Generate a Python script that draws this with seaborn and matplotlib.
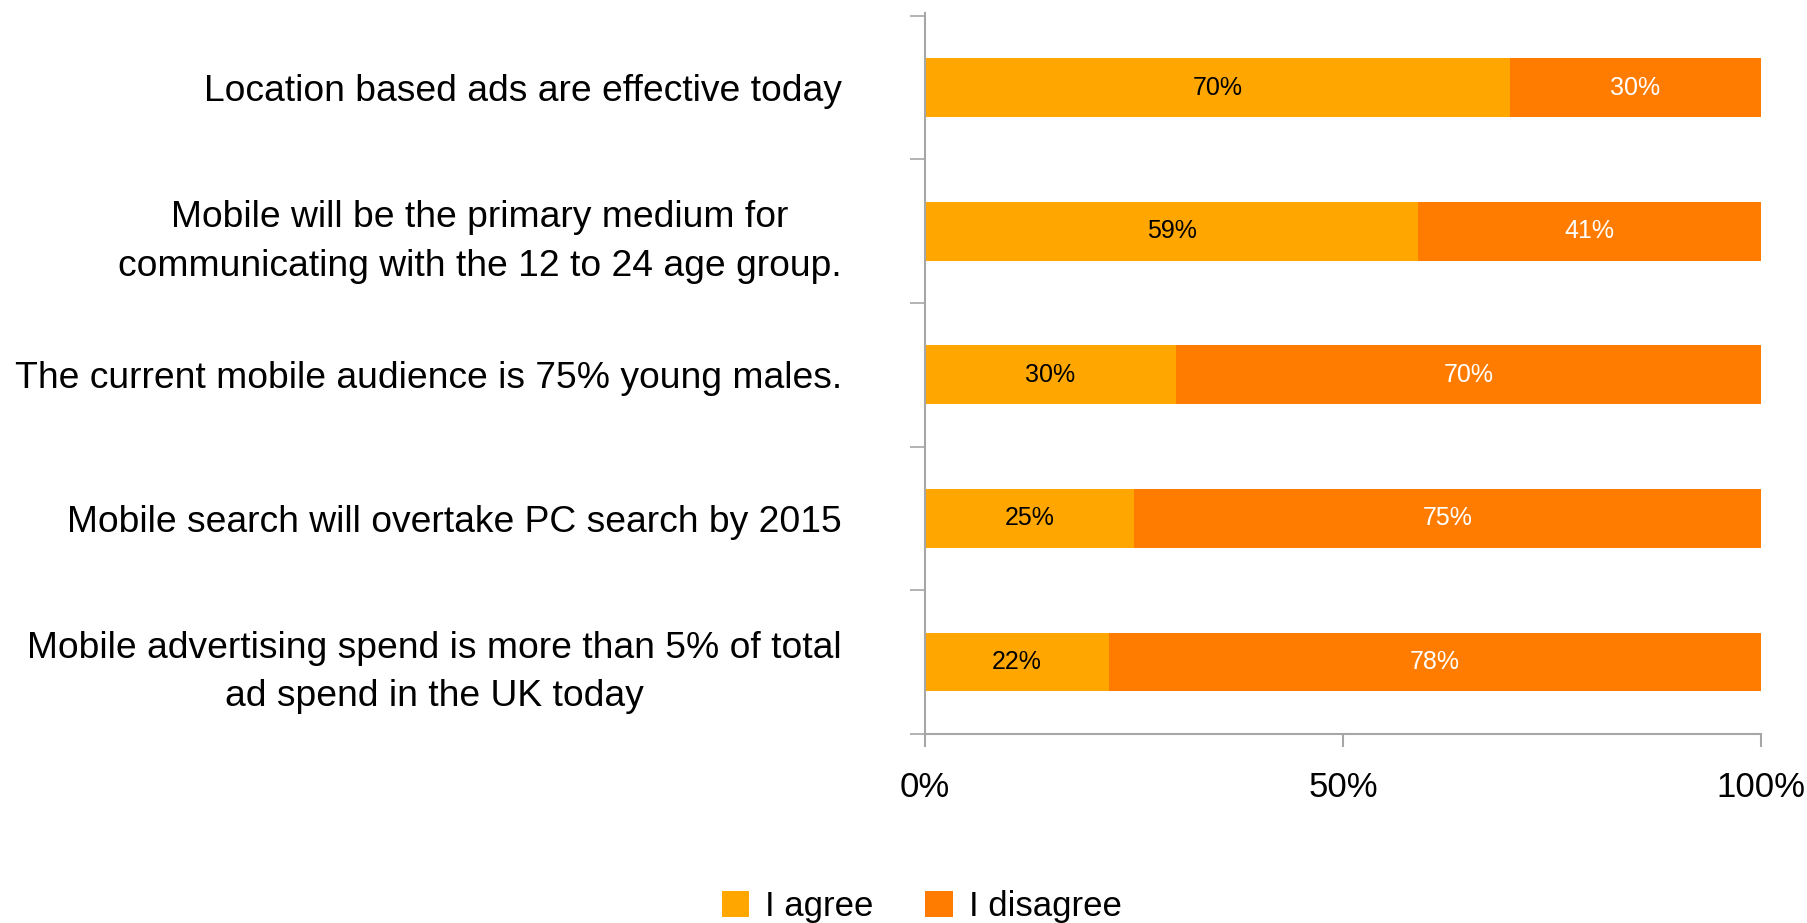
import matplotlib
matplotlib.use("Agg")
import matplotlib.pyplot as plt
from matplotlib.patches import Patch
import pandas as pd
import seaborn as sns

statements = [
    "Location based ads are effective today",
    "Mobile will be the primary medium for\ncommunicating with the 12 to 24 age group.",
    "The current mobile audience is 75% young males.",
    "Mobile search will overtake PC search by 2015",
    "Mobile advertising spend is more than 5% of total\nad spend in the UK today",
]
agree = [70, 59, 30, 25, 22]
disagree = [30, 41, 70, 75, 78]
series_names = ["I agree", "I disagree"]
x_ticks = [0, 50, 100]
x_tick_labels = ["0%", "50%", "100%"]

AGREE_COLOR = "#FFA600"
DISAGREE_COLOR = "#FF7C00"
AXIS_COLOR = "#A6A6A6"

sns.set_theme(style="white")
plt.rcParams["font.family"] = ["Liberation Sans", "DejaVu Sans"]
plt.rcParams["text.color"] = "black"
plt.rcParams["xtick.labelcolor"] = "black"
plt.rcParams["ytick.labelcolor"] = "black"

df = pd.DataFrame({"statement": statements, "agree": agree, "disagree": disagree})
df["total"] = df["agree"] + df["disagree"]

fig = plt.figure(figsize=(18.07, 9.23), dpi=100)
ax = fig.add_axes([0.512, 0.205, 0.4625, 0.781])

# stacked bars: full width in the disagree colour, agree share drawn over it
sns.barplot(data=df, y="statement", x="total", orient="h", color=DISAGREE_COLOR,
            saturation=1, width=0.41, ax=ax, edgecolor="none")
sns.barplot(data=df, y="statement", x="agree", orient="h", color=AGREE_COLOR,
            saturation=1, width=0.41, ax=ax, edgecolor="none")

for i, (a, d) in enumerate(zip(df["agree"], df["disagree"])):
    ax.text(a / 2, i, f"{a}%", ha="center", va="center", fontsize=18, color="black")
    ax.text(a + d / 2, i, f"{d}%", ha="center", va="center", fontsize=18, color="white")

ax.set_xlim(0, 100)
ax.set_ylim(len(statements) - 0.5 - 0.02, -0.5 - 0.02)
ax.set_xlabel("")
ax.set_ylabel("")

ax.set_xticks(x_ticks)
ax.set_xticklabels(x_tick_labels, fontsize=25)
ax.set_yticks(range(len(statements)))
ax.set_yticklabels(statements, fontsize=26.8, multialignment="center", linespacing=1.5)
ax.set_yticks([i - 0.5 for i in range(len(statements) + 1)], minor=True)

ax.tick_params(axis="x", which="major", direction="out", length=9, width=1.5,
               color=AXIS_COLOR, pad=18, bottom=True)
ax.tick_params(axis="y", which="major", length=0, pad=60)
ax.tick_params(axis="y", which="minor", direction="out", length=11, width=1.2,
               color=AXIS_COLOR, left=True)

for side in ["top", "right"]:
    ax.spines[side].set_visible(False)
for side in ["left", "bottom"]:
    ax.spines[side].set_color(AXIS_COLOR)
    ax.spines[side].set_linewidth(1.5)

handles = [Patch(facecolor=AGREE_COLOR, edgecolor="none"),
           Patch(facecolor=DISAGREE_COLOR, edgecolor="none")]
fig.legend(handles, series_names, loc="center", bbox_to_anchor=(0.51, 0.018),
           ncol=2, frameon=False, fontsize=25, handlelength=0.8, handleheight=0.8,
           handletextpad=0.45, columnspacing=1.5)

fig.savefig("out.png", dpi=100, facecolor="white")
